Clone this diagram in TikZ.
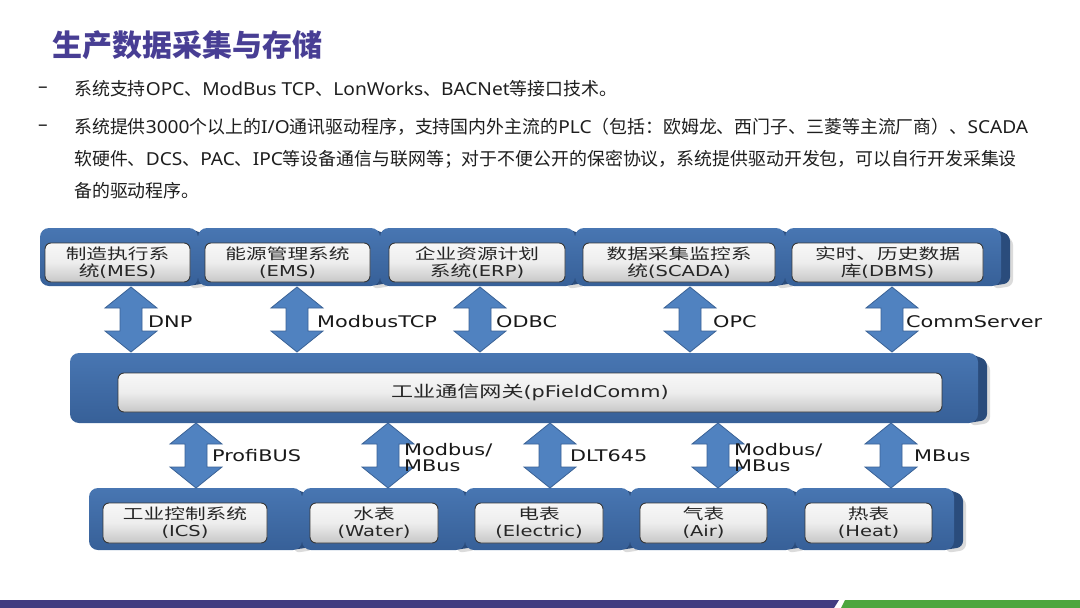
\documentclass[tikz,border=0pt]{standalone}
\usepackage{fontspec}
\setmainfont{Noto Sans CJK SC}
\newfontfamily\dcjk{Noto Sans CJK SC}[FakeStretch=1.38]
\newfontfamily\dlat{DejaVu Sans}[FakeStretch=1.3]
\newfontfamily\blat{Noto Sans}[FakeStretch=1.07]
\usetikzlibrary{calc}
\definecolor{titlec}{RGB}{72,62,148}
\definecolor{bodyc}{RGB}{30,30,30}
\definecolor{bfrontT}{RGB}{72,118,178}
\definecolor{bfrontB}{RGB}{55,96,152}
\definecolor{bsidec}{RGB}{42,76,124}
\definecolor{arrf}{RGB}{80,130,192}
\definecolor{arrd}{RGB}{58,98,150}
\definecolor{gboxd}{RGB}{55,55,55}
\definecolor{purp}{RGB}{66,60,128}
\definecolor{grn}{RGB}{76,166,62}
\newcommand\Cj[1]{{\dcjk #1}}
\newcommand\Lt[1]{{\blat #1}}
\newcommand\bblock[4]{%
  \fill[black!14,rounded corners=6] ({#3-8},{#2+5}) -- ({#3+12},{#2+11}) -- ({#3+12},{#4}) -- ({#3-8},{#4+3}) -- cycle;
  \fill[bsidec,rounded corners=6] ({#3-10},{#2}) -- ({#3+9},{#2+7}) -- ({#3+9},{#4-3}) -- ({#3-10},{#4}) -- cycle;
  \shade[top color=bfrontT,bottom color=bfrontB,rounded corners=9] (#1,#2) rectangle (#3,#4);
}
\newcommand\barrow[2]{%
  \filldraw[arr] (#1) -- ($(#1)+(26,21)$) -- ($(#1)+(11,21)$) -- ($(#2)+(11,-21)$) -- ($(#2)+(26,-21)$) -- (#2)
    -- ($(#2)+(-26,-21)$) -- ($(#2)+(-11,-21)$) -- ($(#1)+(-11,21)$) -- ($(#1)+(-26,21)$) -- cycle;}
\tikzset{
  gbox/.style={draw=gboxd,line width=0.9pt,rounded corners=6,top color=white!97!black,bottom color=black!22,
    middle color=black!7,inner sep=0pt,align=center,text=black!85,
    font=\dlat\fontsize{15}{17}\selectfont},
  arr/.style={fill=arrf,draw=arrd,line width=0.8pt,line join=miter},
  lbl/.style={inner sep=0pt,anchor=west,text=black!90,align=left,font=\dlat\fontsize{16}{16.5}\selectfont},
  bodyt/.style={inner sep=0pt,anchor=west,text=bodyc,font=\fontsize{17.9}{19}\selectfont},
}
\begin{document}
\begin{tikzpicture}[x=1pt,y=-1pt]
\useasboundingbox (0,0) rectangle (1080,608);
\fill[white] (0,0) rectangle (1080,608);
% title and text
\node[inner sep=0pt,anchor=west,text=titlec,font=\bfseries\fontsize{30}{31}\selectfont] (title) at (52,45) {生产数据采集与存储};
\node[bodyt] (d1) at (38,90) {\Lt{–}};
\node[bodyt] (t1) at (74,89) {系统支持\Lt{OPC}、\Lt{ModBus TCP}、\Lt{LonWorks}、\Lt{BACNet}等接口技术。};
\node[bodyt] (d2) at (38,128) {\Lt{–}};
\node[bodyt] (t2) at (74,127) {系统提供\Lt{3000}个以上的\Lt{I/O}通讯驱动程序，支持国内外主流的\Lt{PLC}（包括：欧姆龙、西门子、三菱等主流厂商）、\Lt{SCADA}};
\node[bodyt] (t3) at (74,159) {软硬件、\Lt{DCS}、\Lt{PAC}、\Lt{IPC}等设备通信与联网等；对于不便公开的保密协议，系统提供驱动开发包，可以自行开发采集设};
\node[bodyt] (t4) at (74,191) {备的驱动程序。};
% top row blocks
\bblock{40}{228}{198}{286}
\bblock{198}{228}{380}{286}
\bblock{380}{228}{575}{286}
\bblock{575}{228}{785}{286}
\bblock{785}{228}{1001}{286}
% middle bar
\bblock{70}{353}{978}{423}
% bottom row blocks
\bblock{89}{488}{302}{550}
\bblock{302}{488}{465}{550}
\bblock{465}{488}{630}{550}
\bblock{630}{488}{795}{550}
\bblock{795}{488}{954}{550}
% inner boxes
\node[gbox,minimum width=145pt,minimum height=39pt] (mes) at (117.5,262.5) {\Cj{制造执行系}\\\Cj{统}(MES)};
\node[gbox,minimum width=165pt,minimum height=39pt] (ems) at (287.5,262.5) {\Cj{能源管理系统}\\(EMS)};
\node[gbox,minimum width=176pt,minimum height=39pt] (erp) at (477,262.5) {\Cj{企业资源计划}\\\Cj{系统}(ERP)};
\node[gbox,minimum width=192pt,minimum height=39pt] (scada) at (679,262.5) {\Cj{数据采集监控系}\\\Cj{统}(SCADA)};
\node[gbox,minimum width=191pt,minimum height=39pt] (dbms) at (887.5,262.5) {\Cj{实时、历史数据}\\\Cj{库}(DBMS)};
\node[gbox,minimum width=824pt,minimum height=39pt,font=\dlat\fontsize{16}{17}\selectfont] (gw) at (530,392.5) {\Cj{工业通信网关}(pFieldComm)};
\node[gbox,minimum width=164pt,minimum height=40pt] (ics) at (185,523) {\Cj{工业控制系统}\\(ICS)};
\node[gbox,minimum width=128pt,minimum height=40pt] (water) at (374,523) {\Cj{水表}\\(Water)};
\node[gbox,minimum width=128pt,minimum height=40pt] (elec) at (539,523) {\Cj{电表}\\(Electric)};
\node[gbox,minimum width=127pt,minimum height=40pt] (air) at (703.5,523) {\Cj{气表}\\(Air)};
\node[gbox,minimum width=127pt,minimum height=40pt] (heat) at (868.5,523) {\Cj{热表}\\(Heat)};
% arrow end points
\coordinate (u1t) at (131,287); \coordinate (u1b) at (131,352);
\coordinate (u2t) at (297,287); \coordinate (u2b) at (297,352);
\coordinate (u3t) at (480,287); \coordinate (u3b) at (480,352);
\coordinate (u4t) at (690,287); \coordinate (u4b) at (690,352);
\coordinate (u5t) at (892,287); \coordinate (u5b) at (892,352);
\coordinate (l1t) at (196,423); \coordinate (l1b) at (196,488);
\coordinate (l2t) at (388,423); \coordinate (l2b) at (388,488);
\coordinate (l3t) at (550,423); \coordinate (l3b) at (550,488);
\coordinate (l4t) at (718,423); \coordinate (l4b) at (718,488);
\coordinate (l5t) at (891,423); \coordinate (l5b) at (891,488);
\barrow{u1t}{u1b}
\barrow{u2t}{u2b}
\barrow{u3t}{u3b}
\barrow{u4t}{u4b}
\barrow{u5t}{u5b}
\barrow{l1t}{l1b}
\barrow{l2t}{l2b}
\barrow{l3t}{l3b}
\barrow{l4t}{l4b}
\barrow{l5t}{l5b}
% labels
\node[lbl] (p1) at (148,322) {DNP};
\node[lbl] (p2) at (317,322) {ModbusTCP};
\node[lbl] (p3) at (496,322) {ODBC};
\node[lbl] (p4) at (713,322) {OPC};
\node[lbl] (p5) at (906,322) {CommServer};
\node[lbl] (q1) at (212,456) {ProfiBUS};
\node[lbl] (q2) at (404,457.5) {Modbus/\\MBus};
\node[lbl] (q3) at (570,456) {DLT645};
\node[lbl] (q4) at (734,457.5) {Modbus/\\MBus};
\node[lbl] (q5) at (914,456) {MBus};
% bottom stripe
\fill[purp] (0,600) -- (839,600) -- (834,608) -- (0,608) -- cycle;
\fill[grn] (845,600) -- (1080,600) -- (1080,608) -- (841,608) -- cycle;
\end{tikzpicture}
\end{document}
